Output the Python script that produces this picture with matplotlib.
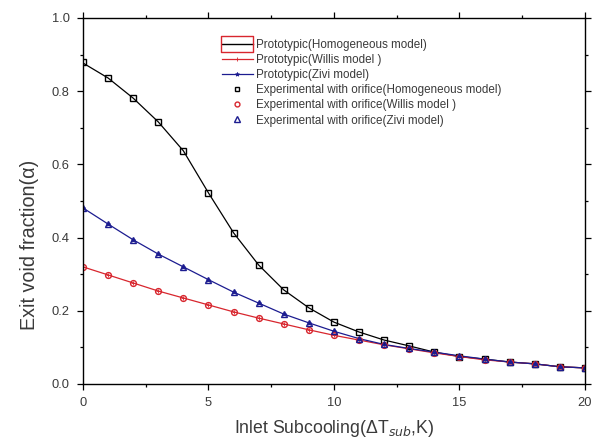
import matplotlib
matplotlib.use("Agg")
import matplotlib.pyplot as plt
from matplotlib.lines import Line2D
from matplotlib.path import Path
from matplotlib.ticker import MultipleLocator, FormatStrFormatter

plt.rcParams['font.family'] = ['Liberation Sans', 'DejaVu Sans']

# Inlet subcooling (K)
subcooling = list(range(0, 21))

# Prototypic predictions of exit void fraction
proto_homogeneous = [0.877, 0.836, 0.781, 0.716, 0.637, 0.522, 0.413, 0.325, 0.257, 0.208,
                     0.169, 0.142, 0.120, 0.104, 0.087, 0.075, 0.068, 0.060, 0.055, 0.047, 0.044]
proto_willis = [0.320, 0.298, 0.276, 0.254, 0.235, 0.216, 0.197, 0.180, 0.164, 0.148,
                0.133, 0.120, 0.107, 0.096, 0.085, 0.075, 0.066, 0.060, 0.055, 0.047, 0.044]
proto_zivi = [0.481, 0.437, 0.394, 0.355, 0.320, 0.285, 0.251, 0.221, 0.191, 0.167,
              0.144, 0.124, 0.108, 0.097, 0.087, 0.077, 0.068, 0.060, 0.055, 0.047, 0.044]

# Experimental results with orifice
exp_homogeneous = [0.880, 0.836, 0.781, 0.716, 0.637, 0.522, 0.413, 0.325, 0.257, 0.208,
                   0.169, 0.142, 0.120, 0.105, 0.087, 0.074, 0.068, 0.060, 0.055, 0.047, 0.044]
exp_willis = [0.320, 0.298, 0.276, 0.254, 0.235, 0.216, 0.197, 0.180, 0.164, 0.148,
              0.133, 0.120, 0.107, 0.096, 0.085, 0.074, 0.066, 0.060, 0.055, 0.047, 0.044]
exp_zivi = [0.481, 0.437, 0.394, 0.355, 0.320, 0.285, 0.251, 0.221, 0.191, 0.167,
            0.144, 0.124, 0.108, 0.097, 0.087, 0.077, 0.068, 0.060, 0.055, 0.047, 0.044]

labels = [
    "Prototypic(Homogeneous model)",
    "Prototypic(Willis model )",
    "Prototypic(Zivi model)",
    "Experimental with orifice(Homogeneous model)",
    "Experimental with orifice(Willis model )",
    "Experimental with orifice(Zivi model)",
]

RED = "#d8262e"
BLUE = "#1c1c90"
TEXT = "#3a3a3a"

fig = plt.figure(figsize=(5.94, 4.43), dpi=100)
ax = fig.add_axes([0.1397, 0.1332, 0.8451, 0.8262])

ax.plot(subcooling, proto_homogeneous, color="black", lw=0.9)
ax.plot(subcooling, proto_willis, color=RED, lw=0.9, marker="+", ms=3, mew=0.6)
ax.plot(subcooling, proto_zivi, color=BLUE, lw=0.9, marker="*", ms=3, mew=0.6)

ax.plot(subcooling, exp_homogeneous, ls="none", marker="s", ms=4.2, mfc="none",
        mec="black", mew=1.0)
ax.plot(subcooling, exp_willis, ls="none", marker="o", ms=4.2, mfc="none",
        mec=RED, mew=1.0)
ax.plot(subcooling, exp_zivi, ls="none", marker="^", ms=4.6, mfc="none",
        mec=BLUE, mew=1.0)

ax.set_xlim(0, 20)
ax.set_ylim(0, 1.0)
ax.xaxis.set_major_locator(MultipleLocator(5))
ax.xaxis.set_minor_locator(MultipleLocator(2.5))
ax.yaxis.set_major_locator(MultipleLocator(0.2))
ax.yaxis.set_minor_locator(MultipleLocator(0.1))
ax.yaxis.set_major_formatter(FormatStrFormatter("%.1f"))

ax.tick_params(which="both", direction="out", top=True, right=True,
               colors="black", labelcolor=TEXT, labelsize=9.3, width=0.9)
ax.tick_params(which="major", length=4.5, pad=5)
ax.tick_params(which="minor", length=2.5)
for s in ax.spines.values():
    s.set_linewidth(1.0)

ax.set_xlabel("Inlet Subcooling(ΔT$_{sub}$,K)", fontsize=12.7, color=TEXT, labelpad=6)
ax.set_ylabel("Exit void fraction(α)", fontsize=14.2, color=TEXT)
ax.yaxis.set_label_coords(-0.088, 0.38)

# Wide open box used as the legend symbol of the homogeneous curve
box = Path([(-1, -0.5), (1, -0.5), (1, 0.5), (-1, 0.5), (-1, -0.5)],
           [Path.MOVETO, Path.LINETO, Path.LINETO, Path.LINETO, Path.CLOSEPOLY])

h_homo = Line2D([], [], color="black", lw=1.0, marker=box, ms=23,
                mfc="none", mec=RED, mew=1.0)
h_willis = Line2D([], [], color=RED, lw=0.9, marker="+", ms=3, mew=0.6)
h_zivi = Line2D([], [], color=BLUE, lw=0.9, marker="*", ms=3, mew=0.6)
h_eh = Line2D([], [], ls="none", marker="s", ms=3.5, mfc="none", mec="black", mew=1.0)
h_ew = Line2D([], [], ls="none", marker="o", ms=3.5, mfc="none", mec=RED, mew=1.0)
h_ez = Line2D([], [], ls="none", marker="^", ms=3.8, mfc="none", mec=BLUE, mew=1.0)

leg = ax.legend([h_homo, h_willis, h_zivi, h_eh, h_ew, h_ez], labels,
                numpoints=1, loc="upper left", bbox_to_anchor=(0.267, 0.956),
                frameon=False, fontsize=8.4, labelspacing=0.27,
                handlelength=2.7, handletextpad=0.25, borderaxespad=0)
for t in leg.get_texts():
    t.set_color(TEXT)

fig.savefig("out.png", dpi=100)
